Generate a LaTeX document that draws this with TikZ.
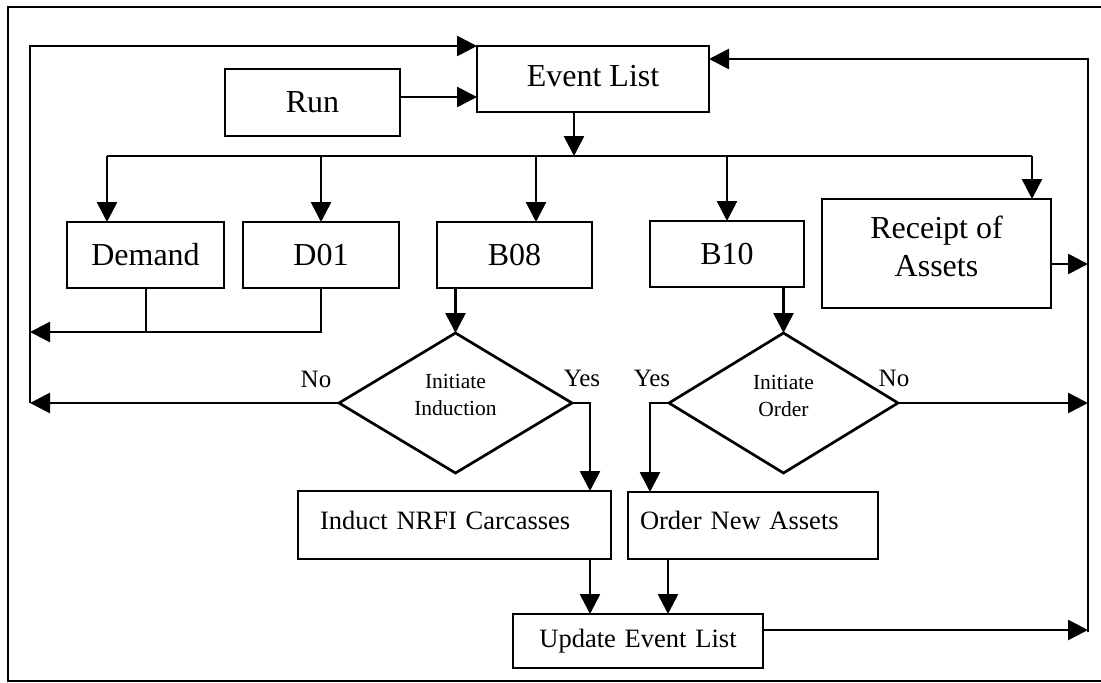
\documentclass[tikz,border=0pt]{standalone}
\usepackage{fontspec}
\setmainfont{Liberation Serif}
\usetikzlibrary{arrows.meta,shapes.geometric}
\tikzset{
  box/.style={draw, line width=2.7pt, inner sep=0pt, outer sep=0pt, align=center},
  decision/.style={draw, diamond, line width=2.7pt, inner sep=0pt, outer sep=0pt, aspect=1.66, align=center, font=\fontsize{21.5}{27}\selectfont},
  conn/.style={line width=2.7pt},
  arr/.style={conn, -{Triangle[length=20pt,width=20pt]}},
  big/.style={font=\fontsize{32}{37}\selectfont},
  mid/.style={font=\fontsize{26.5}{30}\selectfont},
  lab/.style={font=\fontsize{25}{28}\selectfont},
}
\newcommand{\upby}[2]{\raisebox{#1}[\height][\depth]{#2}}
\begin{document}
\begin{tikzpicture}[x=1pt,y=-1pt]
\useasboundingbox (0,0) rectangle (1101,683);
% frame
\draw[line width=2.4pt] (1101,7) -- (8,7) -- (8,681) -- (1101,681);

% boxes
\node[box, big, minimum width=232pt, minimum height=66pt] (EL) at (593,79) {\upby{3pt}{Event List}};
\node[box, big, minimum width=175pt, minimum height=67pt] (Run) at (312.5,102.5) {Run};
\node[box, big, minimum width=157pt, minimum height=66pt] (Demand) at (145.5,255) {Demand};
\node[box, big, minimum width=156pt, minimum height=66pt] (D01) at (321,255) {D01};
\node[box, big, minimum width=155pt, minimum height=66pt] (B08) at (514.5,255) {B08};
\node[box, big, minimum width=154pt, minimum height=66pt] (B10) at (727,254) {B10};
\node[box, big, minimum width=229pt, minimum height=109pt] (Rec) at (936.5,253.5) {\upby{3pt}{\begin{tabular}{@{}c@{}}Receipt of\\[1pt]Assets\end{tabular}}};

\node[decision, minimum width=233pt, minimum height=140pt] (D1) at (455.5,403) {\upby{6pt}{\begin{tabular}{@{}c@{}}Initiate\\Induction\end{tabular}}};
\node[decision, minimum width=229pt, minimum height=140pt] (D2) at (783.5,403) {\upby{5pt}{\begin{tabular}{@{}c@{}}Initiate\\Order\end{tabular}}};

\node[box, mid, minimum width=313pt, minimum height=68pt, text width=269pt, inner xsep=22pt, align=left] (Ind) at (454.5,525) {\upby{5pt}{Induct NRFI Carcasses}};
\node[box, mid, minimum width=250pt, minimum height=67pt, text width=226pt, inner xsep=12pt, align=left] (Ord) at (753,525.5) {\upby{5pt}{Order New Assets}};
\node[box, mid, minimum width=250pt, minimum height=54pt, text width=228pt, inner xsep=11pt, align=center] (Upd) at (638,641) {Update Event List};

% labels
\node[lab] (noA) at (316,379) {No};
\node[lab] (yesA) at (582,378) {Yes};
\node[lab] (yesB) at (652,378) {Yes};
\node[lab] (noB) at (894,378) {No};

% bus coordinates
\coordinate (busL) at (107,156);
\coordinate (busR) at (1032,156);
\coordinate (busE) at (574,156);
\coordinate (busB08) at (536,156);
\coordinate (lx) at (30,46);
\coordinate (rx) at (1088,59);
\coordinate (yA) at (590,0);
\coordinate (yB) at (650,0);
\coordinate (oB) at (668,0);

% connectors
\draw[arr] (Run.east |- 0,97) -- (EL.west |- 0,97);
\draw[arr] (EL.south -| busE) -- (busE);
\draw[conn] (busL) -- (busR);
\draw[arr] (busL) -- (Demand.north -| busL);
\draw[arr] (D01.north |- busL) -- (D01.north);
\draw[arr] (busB08) -- (B08.north -| busB08);
\draw[arr] (B10.north |- busL) -- (B10.north);
\draw[arr] (busR) -- (Rec.north -| busR);

\draw[conn] (Demand.south -| 146,0) -- (146,332);
\draw[arr] (D01.south) -- (D01.south |- 0,332) -- (lx |- 0,332);

\draw[arr] (lx |- D1.west) -- (lx) -- (EL.north west);
\draw[arr] (D1.west) -- (D1.west -| lx);

\draw[arr] (B08.south -| D1.north) -- (D1.north);
\draw[arr] (D1.east) -- (D1.east -| yA) -- (Ind.north -| yA);
\draw[arr] (B10.south -| D2.north) -- (D2.north);
\draw[arr] (D2.west) -- (D2.west -| yB) -- (Ord.north -| yB);
\draw[arr] (D2.east) -- (D2.east -| rx);

\draw[arr] (Ind.south -| yA) -- (Upd.north -| yA);
\draw[arr] (Ord.south -| oB) -- (Upd.north -| oB);

\draw[arr] (Upd.east |- 0,630) -- (rx |- 0,630);
\draw[arr] (Rec.east |- 0,264) -- (rx |- 0,264);
\draw[arr] (rx |- 0,632) -- (rx) -- (EL.east |- rx);
\end{tikzpicture}
\end{document}
